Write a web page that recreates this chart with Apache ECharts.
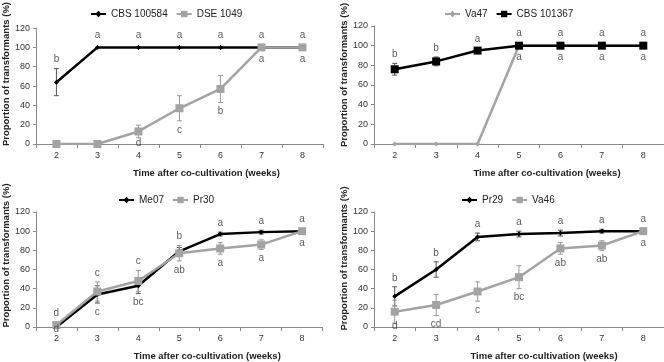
<!DOCTYPE html>
<html><head><meta charset="utf-8">
<script src="https://cdn.jsdelivr.net/npm/echarts@6/dist/echarts.min.js"></script>
<style>html,body{margin:0;padding:0;background:#fff}#c{width:664px;height:362px}</style>
</head><body><div id="c"></div>
<script>
const weeks = ['2','3','4','5','6','7','8'];
const yTicks = [0, 20, 40, 60, 80, 100, 120];

// Panel 1
const cbs100584 = [64, 100, 100, 100, 100, 100, 100];
const cbs100584Err = [14, 0, 0, 0, 0, 0, 0];
const dse1049 = [0, 0, 13, 37, 57, 100, 100];
const dse1049Err = [0, 0, 6.5, 13, 14, 0, 0];
const p1Upper = ['b','a','a','a','a','a','a'];
const p1Lower = ['','','d','c','b','a','a'];

// Panel 2
const va47 = [0, 0, 0, 100, 100, 100, 100];
const va47Err = [0, 0, 0, 0, 0, 0, 0];
const cbs101367 = [76, 84, 95, 100, 100, 100, 100];
const cbs101367Err = [6, 4.5, 2, 0, 0, 0, 0];
const p2Upper = ['b','b','a','a','a','a','a'];
const p2Lower = ['','','','a','a','a','a'];

// Panel 3
const me07 = [0, 34, 43, 79, 97, 99, 100];
const me07Err = [0, 9, 8, 4, 2, 2, 0];
const pr30 = [2, 37, 48, 77, 82, 86, 100];
const pr30Err = [0, 10, 11, 8, 6, 5, 0];
const p3Upper = ['d','c','c','b','a','a','a'];
const p3Lower = ['d','c','bc','ab','a','a','a'];

// Panel 4
const pr29 = [32, 60, 94, 97, 98, 100, 100];
const pr29Err = [10, 8, 4, 3, 3, 2, 0];
const va46 = [16, 23, 37, 52, 82, 85, 100];
const va46Err = [12, 11, 10, 12, 6, 5, 0];
const p4Upper = ['b','b','a','a','a','a','a'];
const p4Lower = ['d','cd','c','bc','ab','ab','a'];

const BLACK = '#000000', GRAY = '#a3a3a3';
const FONT = '"Liberation Sans", Arial, sans-serif';

const panels = [
  {grid:{left:31, top:26, width:292, height:118}, yShift:24, xShift:54, legend:{left:85, top:4},
   s:[{name:'CBS 100584', d:cbs100584, e:cbs100584Err, c:BLACK, sym:'diamond', ss:5},
      {name:'DSE 1049', d:dse1049, e:dse1049Err, c:GRAY, sym:'rect', ss:8}], up:p1Upper, lo:p1Lower},
  {grid:{left:374, top:26, width:290, height:118}, yShift:20, xShift:56, legend:{left:439, top:4},
   s:[{name:'Va47', d:va47, e:va47Err, c:GRAY, sym:'diamond', ss:5},
      {name:'CBS 101367', d:cbs101367, e:cbs101367Err, c:BLACK, sym:'rect', ss:8}], up:p2Upper, lo:p2Lower},
  {grid:{left:32.6, top:212, width:290, height:116.7}, yShift:28, xShift:56, legend:{left:113, top:190},
   s:[{name:'Me07', d:me07, e:me07Err, c:BLACK, sym:'diamond', ss:5},
      {name:'Pr30', d:pr30, e:pr30Err, c:GRAY, sym:'rect', ss:8}], up:p3Upper, lo:p3Lower},
  {grid:{left:374, top:212, width:290, height:117.7}, yShift:22, xShift:50, legend:{left:456, top:190},
   s:[{name:'Pr29', d:pr29, e:pr29Err, c:BLACK, sym:'diamond', ss:5},
      {name:'Va46', d:va46, e:va46Err, c:GRAY, sym:'rect', ss:8}], up:p4Upper, lo:p4Lower}
];

const grid = [], xAxis = [], yAxis = [], legend = [], series = [];
panels.forEach((p, i) => {
  grid.push(Object.assign({containLabel:false}, p.grid));
  xAxis.push({type:'category', gridIndex:i, data:weeks, boundaryGap:true,
    name:'Time after co-cultivation (weeks)', nameLocation:'middle', nameGap:24,
    nameTextStyle:{fontFamily:FONT, fontSize:9.5, fontWeight:'bold', color:'#222', padding:[0,0,0,p.xShift]},
    axisLine:{lineStyle:{color:'#888', width:1}},
    axisTick:{show:true, length:4, lineStyle:{color:'#888'}},
    axisLabel:{fontFamily:FONT, fontSize:9, color:'#333', margin:7},
    splitLine:{show:false}});
  yAxis.push({type:'value', gridIndex:i, min:0, max:120, interval:20,
    name:'Proportion of transformants (%)', nameLocation:'middle', nameGap:22, nameRotate:90,
    nameTextStyle:{fontFamily:FONT, fontSize:9.5, fontWeight:'bold', color:'#222', padding:[0,0,0,p.yShift]},
    axisLine:{show:true, lineStyle:{color:'#888', width:1}},
    axisTick:{show:true, length:3, lineStyle:{color:'#888'}},
    axisLabel:{fontFamily:FONT, fontSize:9, color:'#333', margin:6,
      formatter: v => yTicks.indexOf(v) >= 0 ? String(v) : ''},
    splitLine:{show:false}});
  legend.push({data:p.s.map(s=>s.name), left:p.legend.left, top:p.legend.top, orient:'horizontal',
    itemWidth:15, itemHeight:8, itemGap:8, selectedMode:false,
    textStyle:{fontFamily:FONT, fontSize:10, color:'#222'}});
  // error bars
  p.s.forEach(s => {
    const ed = [];
    s.d.forEach((v, k) => { if (s.e[k] > 0) ed.push([k, v - s.e[k], v + s.e[k]]); });
    series.push({type:'custom', xAxisIndex:i, yAxisIndex:i, silent:true, z:1,
      data: ed,
      renderItem: (params, api) => {
        const x = api.value(0);
        const lo = api.coord([x, api.value(1)]);
        const hi = api.coord([x, api.value(2)]);
        const w = 2.5;
        const st = {stroke: s.c === BLACK ? '#555' : '#999', lineWidth:1};
        return {type:'group', children:[
          {type:'line', shape:{x1:lo[0], y1:lo[1], x2:hi[0], y2:hi[1]}, style:st},
          {type:'line', shape:{x1:lo[0]-w, y1:lo[1], x2:lo[0]+w, y2:lo[1]}, style:st},
          {type:'line', shape:{x1:hi[0]-w, y1:hi[1], x2:hi[0]+w, y2:hi[1]}, style:st}
        ]};
      }});
  });
  p.s.forEach((s, k) => {
    series.push({type:'line', name:s.name, xAxisIndex:i, yAxisIndex:i, data:s.d, z:2+k,
      symbol:s.sym, symbolSize:s.ss, showSymbol:true,
      lineStyle:{color:s.c, width:2.5}, itemStyle:{color:s.c, borderWidth:0}});
  });
  const a = p.s[0], b = p.s[1];
  const upData = [], loData = [];
  weeks.forEach((w, k) => {
    if (p.up[k]) {
      const ta = a.d[k] + a.e[k], tb = b.d[k] + b.e[k];
      const e = ta >= tb ? a.e[k] : b.e[k];
      upData.push({value:[k, Math.max(ta, tb), p.up[k]], label:{distance: e > 0 ? 3 : 6}});
    }
    if (p.lo[k]) {
      const la = a.d[k] - a.e[k], lb = b.d[k] - b.e[k];
      const e = la <= lb ? a.e[k] : b.e[k];
      upData.length; 
      loData.push({value:[k, Math.max(Math.min(la, lb), 10), p.lo[k]], label:{distance: e > 0 ? 3 : 6}});
    }
  });
  [[upData,'top'],[loData,'bottom']].forEach(([dd, pos]) => {
    series.push({type:'scatter', xAxisIndex:i, yAxisIndex:i, data:dd, symbolSize:2, z:5, silent:true,
      itemStyle:{color:'rgba(0,0,0,0)'},
      label:{show:true, position:pos, distance:3, formatter: q => q.value[2],
        fontFamily:FONT, fontSize:10, color:'#333'}});
  });
});

const chart = echarts.init(document.getElementById('c'), null, {renderer:'canvas'});
chart.setOption({animation:false, backgroundColor:'#fff', grid, xAxis, yAxis, legend, series});
</script></body></html>
